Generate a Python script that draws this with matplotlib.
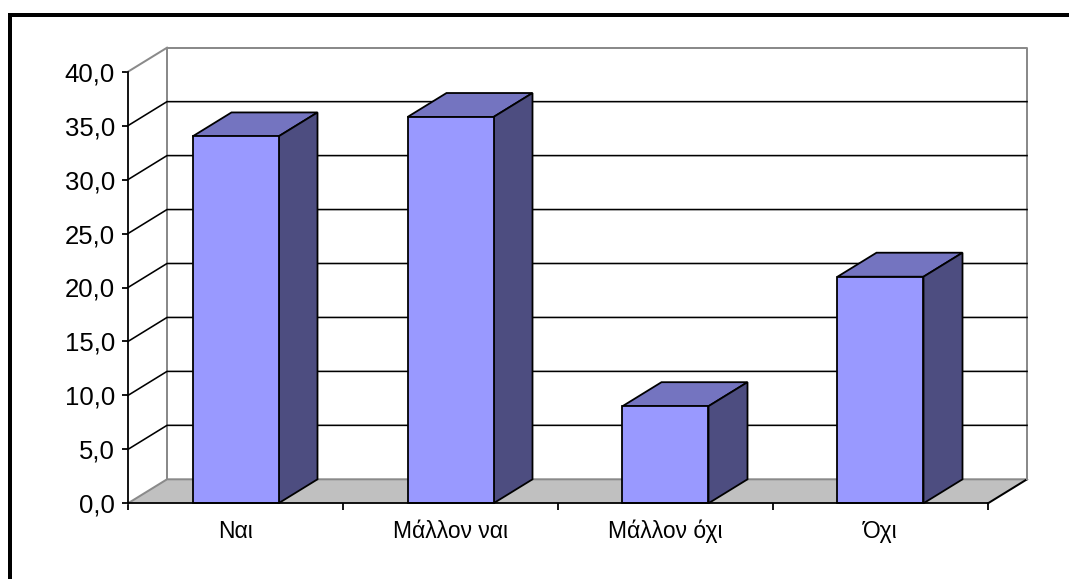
import matplotlib
matplotlib.use("Agg")
import matplotlib.pyplot as plt
from matplotlib.patches import Polygon, Rectangle
from matplotlib.ticker import FixedLocator, FuncFormatter

plt.rcParams['font.family'] = ['Liberation Sans', 'DejaVu Sans']

categories = ["Ναι", "Μάλλον ναι", "Μάλλον όχι", "Όχι"]
values = [34.0, 35.8, 9.0, 21.0]
y_ticks = [0, 5, 10, 15, 20, 25, 30, 35, 40]

FRONT = "#9999ff"
TOP = "#7474c0"
SIDE = "#4d4d80"
FLOOR = "#c0c0c0"
WALL_EDGE = "#8a8a8a"

W, H, DPI = 1069, 579, 100
fig = plt.figure(figsize=(W / DPI, H / DPI), dpi=DPI)
fig.patch.set_facecolor("white")

# front plane of the plot area
ax = fig.add_axes([128 / W, 1 - 503.3 / H, 860 / W, 431.6 / H])
ax.set_xlim(0, len(categories))
ax.set_ylim(0, 40)
ax.patch.set_visible(False)

# depth of the 3-D box, given in pixels and converted to data units
depth_px = (39.0, 24.0)
inv = ax.transData.inverted()
x0d, y0d = inv.transform(ax.transData.transform((0, 0)))
x1d, y1d = inv.transform(ax.transData.transform((0, 0)) + depth_px)
dx, dy = x1d - x0d, y1d - y0d

n = len(categories)
ymax = y_ticks[-1]
lw_px = 0.72  # points per pixel at 100 dpi

# floor
ax.add_patch(Polygon([(0, 0), (n, 0), (n + dx, dy), (dx, dy)], closed=True,
                     facecolor=FLOOR, edgecolor="none", zorder=1, clip_on=False))
ax.plot([0, dx, n + dx], [0, dy, dy], color=WALL_EDGE, lw=2 * lw_px, zorder=2, clip_on=False)
ax.plot([n, n + dx], [0, dy], color="black", lw=2 * lw_px, zorder=2, clip_on=False)

# back wall and side wall outline
ax.plot([dx, dx, n + dx, n + dx], [dy, ymax + dy, ymax + dy, dy],
        color=WALL_EDGE, lw=2 * lw_px, zorder=2, clip_on=False)
ax.plot([0, dx], [ymax, ymax + dy], color=WALL_EDGE, lw=2 * lw_px, zorder=2, clip_on=False)

# gridlines on side and back walls
for v in y_ticks[1:-1]:
    ax.plot([0, dx, n + dx], [v, v + dy, v + dy], color="black",
            lw=1.6 * lw_px, zorder=2, clip_on=False)

# 3-D bars
bar_w = 0.40
for i, v in enumerate(values):
    c = i + 0.5
    xl, xr = c - bar_w / 2, c + bar_w / 2
    ax.add_patch(Polygon([(xl, v), (xr, v), (xr + dx, v + dy), (xl + dx, v + dy)],
                         closed=True, facecolor=TOP, edgecolor="black",
                         lw=1.8 * lw_px, joinstyle="miter", zorder=3, clip_on=False))
    ax.add_patch(Polygon([(xr, 0), (xr + dx, dy), (xr + dx, v + dy), (xr, v)],
                         closed=True, facecolor=SIDE, edgecolor="black",
                         lw=1.8 * lw_px, joinstyle="miter", zorder=3, clip_on=False))
    ax.bar(c, v, width=bar_w, color=FRONT, edgecolor="black",
           linewidth=1.8 * lw_px, zorder=4, clip_on=False)

# axes lines
for s in ("top", "right"):
    ax.spines[s].set_visible(False)
for s in ("left", "bottom"):
    ax.spines[s].set_color("black")
    ax.spines[s].set_linewidth(1.8 * lw_px)
    ax.spines[s].set_zorder(5)

ax.yaxis.set_major_locator(FixedLocator(y_ticks))
ax.yaxis.set_major_formatter(FuncFormatter(lambda v, p: f"{v:.1f}".replace(".", ",")))
ax.tick_params(axis="y", direction="out", length=6 * lw_px, width=1.8 * lw_px,
               labelsize=18.5, pad=5, colors="black")

ax.set_xticks([i + 0.5 for i in range(n)])
ax.set_xticklabels(categories)
ax.set_xticks(list(range(n + 1)), minor=True)
ax.tick_params(axis="x", which="major", length=0, labelsize=16.5, pad=12)
ax.tick_params(axis="x", which="minor", direction="out", length=7 * lw_px,
               width=1.8 * lw_px, colors="black")

# chart border
fig.patches.append(Rectangle((10.3 / W, -0.1), 1.2, 1.1 - 14.7 / H,
                             transform=fig.transFigure, facecolor="none",
                             edgecolor="black", lw=4 * lw_px, figure=fig))

fig.savefig("out.png", dpi=DPI)
